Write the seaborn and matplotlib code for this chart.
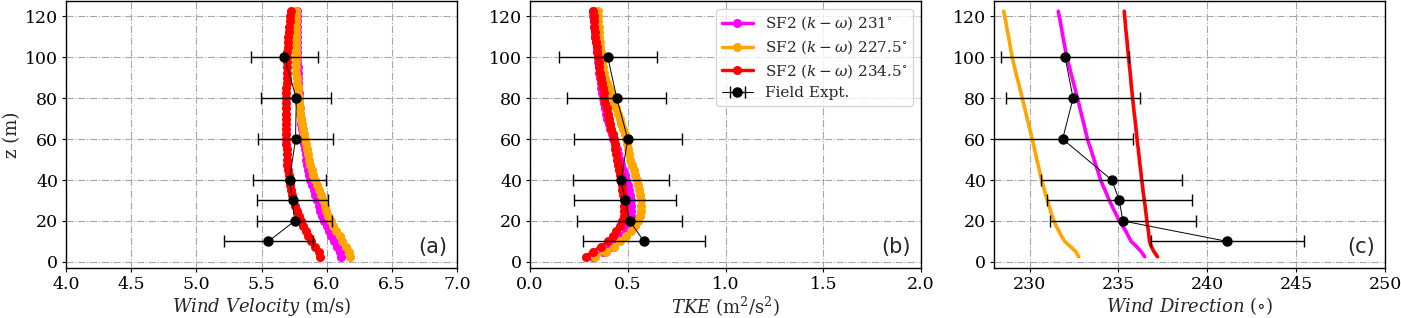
import numpy as np
import pandas as pd
import matplotlib
matplotlib.use("Agg")
import matplotlib.pyplot as plt
import seaborn as sns

# ---------------- data ----------------
z_model = [2.5, 5, 7.5, 10, 12.5, 15, 17.5, 20, 22.5, 25, 27.5, 30, 32.5, 35, 37.5, 40,
           42.5, 45, 47.5, 50, 52.5, 55, 57.5, 60, 62.5, 65, 67.5, 70, 72.5, 75, 77.5, 80,
           82.5, 85, 87.5, 90, 92.5, 95, 97.5, 100, 102.5, 105, 107.5, 110, 112.5, 115,
           117.5, 120, 122.5]

# Wind velocity (m/s)
vel_231 = [6.11, 6.10, 6.08, 6.055, 6.035, 6.015, 6.0, 5.982, 5.967, 5.952, 5.939, 5.926,
           5.913, 5.9, 5.887, 5.874, 5.866, 5.858, 5.851, 5.845, 5.838, 5.832, 5.826, 5.82,
           5.815, 5.81, 5.805, 5.801, 5.797, 5.793, 5.789, 5.786, 5.784, 5.782, 5.78, 5.779,
           5.778, 5.777, 5.776, 5.775, 5.774, 5.774, 5.773, 5.773, 5.773, 5.772, 5.772,
           5.772, 5.772]
vel_2275 = [6.177, 6.17, 6.145, 6.12, 6.1, 6.075, 6.05, 6.03, 6.013, 5.997, 5.985, 5.975,
            5.96, 5.94, 5.925, 5.908, 5.897, 5.885, 5.874, 5.864, 5.855, 5.846, 5.838, 5.83,
            5.823, 5.816, 5.809, 5.803, 5.798, 5.793, 5.789, 5.785, 5.781, 5.777, 5.773, 5.77,
            5.767, 5.764, 5.762, 5.761, 5.761, 5.761, 5.762, 5.763, 5.764, 5.765, 5.766,
            5.767, 5.768]
vel_2345 = [5.95, 5.94, 5.91, 5.88, 5.86, 5.84, 5.82, 5.80, 5.785, 5.77, 5.755, 5.745,
            5.735, 5.727, 5.72, 5.714, 5.708, 5.703, 5.699, 5.696, 5.694, 5.692, 5.691, 5.69,
            5.689, 5.688, 5.688, 5.688, 5.688, 5.689, 5.689, 5.69, 5.69, 5.691, 5.692, 5.692,
            5.693, 5.694, 5.695, 5.696, 5.698, 5.70, 5.703, 5.706, 5.71, 5.714, 5.718,
            5.722, 5.726]

# TKE (m^2/s^2)
tke_231 = [0.322, 0.373, 0.41, 0.441, 0.47, 0.49, 0.505, 0.512, 0.517, 0.519, 0.519, 0.517,
           0.512, 0.506, 0.499, 0.492, 0.484, 0.476, 0.468, 0.46, 0.452, 0.443, 0.433, 0.424,
           0.417, 0.409, 0.402, 0.396, 0.39, 0.384, 0.378, 0.373, 0.369, 0.365, 0.361, 0.357,
           0.354, 0.351, 0.349, 0.347, 0.344, 0.341, 0.338, 0.335, 0.332, 0.329, 0.326,
           0.323, 0.32]
tke_2275 = [0.33, 0.39, 0.43, 0.458, 0.49, 0.517, 0.537, 0.551, 0.562, 0.567, 0.569, 0.568,
            0.565, 0.56, 0.554, 0.546, 0.538, 0.53, 0.522, 0.514, 0.507, 0.5, 0.496, 0.492,
            0.484, 0.476, 0.468, 0.459, 0.45, 0.441, 0.432, 0.424, 0.415, 0.405, 0.395, 0.386,
            0.378, 0.372, 0.367, 0.364, 0.361, 0.359, 0.357, 0.355, 0.353, 0.351, 0.35,
            0.348, 0.347]
tke_2345 = [0.285, 0.32, 0.365, 0.398, 0.422, 0.441, 0.46, 0.472, 0.479, 0.482, 0.482, 0.48,
            0.477, 0.473, 0.47, 0.466, 0.462, 0.457, 0.452, 0.447, 0.442, 0.437, 0.433, 0.428,
            0.422, 0.416, 0.41, 0.404, 0.398, 0.392, 0.386, 0.381, 0.377, 0.372, 0.368, 0.364,
            0.36, 0.355, 0.351, 0.347, 0.344, 0.341, 0.338, 0.335, 0.332, 0.329, 0.327,
            0.325, 0.322]

# Wind direction (deg)
dir_231 = [236.48, 236.28, 236.02, 235.72, 235.56, 235.42, 235.23, 235.05, 234.91, 234.77,
           234.63, 234.49, 234.37, 234.25, 234.12, 234.0, 233.91, 233.82, 233.72, 233.63,
           233.54, 233.45, 233.35, 233.26, 233.19, 233.12, 233.05, 232.98, 232.91, 232.84,
           232.77, 232.7, 232.62, 232.55, 232.47, 232.4, 232.32, 232.25, 232.17, 232.09,
           232.04, 231.99, 231.93, 231.88, 231.83, 231.78, 231.73, 231.67, 231.62]
dir_2275 = [232.76, 232.6, 232.3, 231.98, 231.8, 231.65, 231.5, 231.37, 231.27, 231.18,
            231.09, 231.0, 230.92, 230.84, 230.76, 230.68, 230.61, 230.55, 230.48, 230.41,
            230.35, 230.28, 230.22, 230.15, 230.08, 230.01, 229.94, 229.87, 229.8, 229.73,
            229.66, 229.59, 229.52, 229.45, 229.38, 229.3, 229.23, 229.16, 229.09, 229.02,
            228.97, 228.92, 228.87, 228.82, 228.76, 228.71, 228.66, 228.6, 228.55]
dir_2345 = [237.2, 237.0, 236.85, 236.75, 236.72, 236.69, 236.64, 236.6, 236.57, 236.53,
            236.5, 236.46, 236.42, 236.38, 236.35, 236.31, 236.28, 236.25, 236.21, 236.18,
            236.15, 236.12, 236.08, 236.05, 236.02, 235.99, 235.96, 235.93, 235.89, 235.86,
            235.83, 235.8, 235.77, 235.74, 235.71, 235.69, 235.66, 235.63, 235.6, 235.57,
            235.54, 235.51, 235.49, 235.46, 235.43, 235.4, 235.38, 235.35, 235.33]

# Field experiment
z_field = [10, 20, 30, 40, 60, 80, 100]
vel_field = [5.553, 5.754, 5.738, 5.715, 5.761, 5.767, 5.676]
vel_err = [0.34, 0.29, 0.27, 0.277, 0.285, 0.27, 0.255]
tke_field = [0.583, 0.51, 0.486, 0.466, 0.5, 0.444, 0.398]
tke_err = [0.311, 0.268, 0.262, 0.247, 0.276, 0.254, 0.25]
dir_field = [241.13, 235.25, 235.05, 234.63, 231.86, 232.45, 232.0]
dir_err = [4.3, 4.1, 4.07, 3.96, 3.96, 3.75, 3.6]

labels = [r'SF2 $(k-\omega)$ 231$^{\circ}$',
          r'SF2 $(k-\omega)$ 227.5$^{\circ}$',
          r'SF2 $(k-\omega)$ 234.5$^{\circ}$']
colors = ['#ff00ff', '#ffa500', '#ff0000']
field_label = 'Field Expt.'

xlabels = [r'$Wind\ Velocity$ (m/s)', r'$TKE$ (m$^2$/s$^2$)', r'$Wind\ Direction$ ($\circ$)']
xlims = [(4.0, 7.0), (0.0, 2.0), (228, 250)]
xticks = [[4.0, 4.5, 5.0, 5.5, 6.0, 6.5, 7.0], [0.0, 0.5, 1.0, 1.5, 2.0], [230, 235, 240, 245, 250]]
panel_tags = ['(a)', '(b)', '(c)']

# ---------------- style ----------------
sns.set_theme(style='ticks')
plt.rcParams['font.family'] = ['DejaVu Serif']
plt.rcParams['mathtext.fontset'] = 'dejavuserif'
plt.rcParams['axes.edgecolor'] = 'black'
plt.rcParams['xtick.color'] = 'black'
plt.rcParams['ytick.color'] = 'black'
plt.rcParams['axes.linewidth'] = 1.0

fig = plt.figure(figsize=(14.01, 3.18), dpi=100)
lefts = [66 / 1401, 530 / 1401, 994 / 1401]
W = 391 / 1401
B = 1 - 268 / 318
H = 267 / 318
axes = [fig.add_axes([l, B, W, H]) for l in lefts]

model_sets = [[vel_231, vel_2275, vel_2345],
              [tke_231, tke_2275, tke_2345],
              [dir_231, dir_2275, dir_2345]]
field_sets = [(vel_field, vel_err), (tke_field, tke_err), (dir_field, dir_err)]

for i, ax in enumerate(axes):
    for vals, lab, col in zip(model_sets[i], labels, colors):
        df = pd.DataFrame({'x': vals, 'z': z_model})
        if i < 2:
            sns.lineplot(data=df, x='x', y='z', sort=False, estimator=None, ax=ax,
                         color=col, lw=2.5, marker='o', markersize=6.5,
                         markeredgewidth=0, label=lab, legend=False)
        else:
            sns.lineplot(data=df, x='x', y='z', sort=False, estimator=None, ax=ax,
                         color=col, lw=2.6, label=lab, legend=False)
    fx, fe = field_sets[i]
    ax.errorbar(fx, z_field, xerr=fe, fmt='-o', color='black', lw=0.7,
                elinewidth=1.0, capsize=4, markersize=6.5, label=field_label, zorder=5)
    ax.set_xlim(*xlims[i])
    ax.set_xticks(xticks[i])
    ax.set_ylim(-3, 127.5)
    ax.set_yticks([0, 20, 40, 60, 80, 100, 120])
    ax.grid(True, linestyle='-.', color='0.65', lw=0.8)
    ax.tick_params(labelsize=12.5, length=3, width=0.8, pad=2.5, direction='out')
    ax.set_xlabel(xlabels[i], fontsize=13, labelpad=2)
    ax.set_ylabel('z (m)' if i == 0 else '', fontsize=13, labelpad=3)
    ax.text(0.975, 0.04, panel_tags[i], transform=ax.transAxes, ha='right', va='bottom',
            fontsize=15, family='DejaVu Sans')
    for s in ax.spines.values():
        s.set_visible(True)
        s.set_color('black')

axes[1].legend(loc='upper right', fontsize=11, frameon=True, framealpha=0.8,
               edgecolor='0.8', handlelength=2.0, borderaxespad=0.5, labelspacing=0.4,
               borderpad=0.4)

fig.savefig('out.png', dpi=100)
